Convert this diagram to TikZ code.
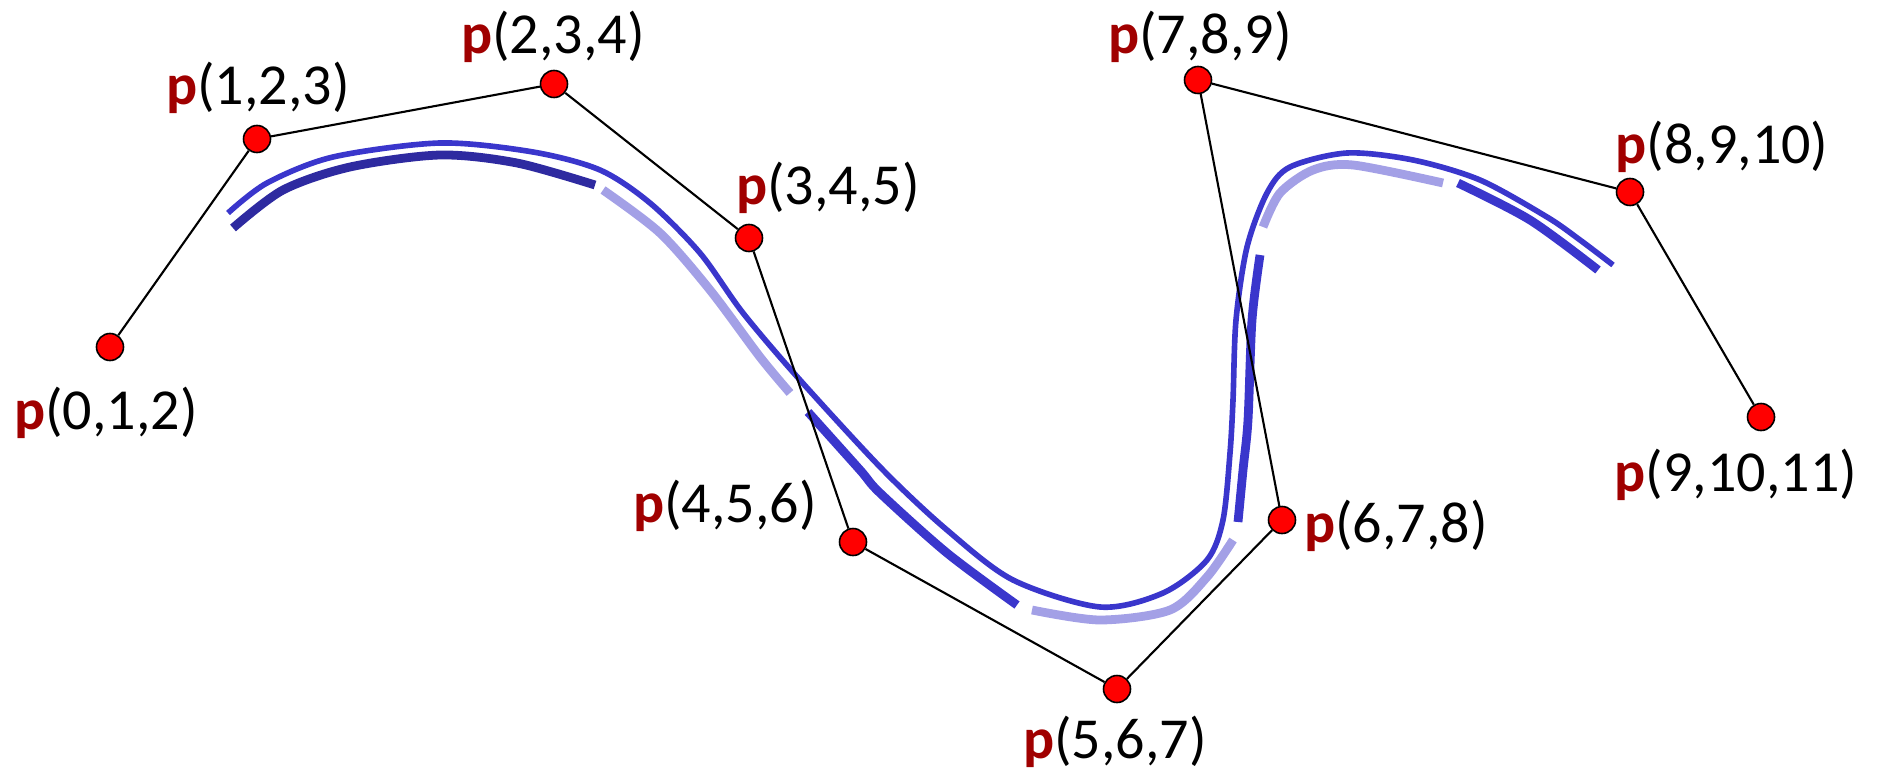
\documentclass[tikz,border=0pt]{standalone}
\usepackage{fontspec}
\setmainfont{Carlito}
\usetikzlibrary{positioning}
\definecolor{pred}{HTML}{A00000}
\definecolor{curveblue}{HTML}{3A36CC}
\definecolor{darkseg}{HTML}{2E2AA0}
\definecolor{lightseg}{HTML}{A3A0E6}
\newcommand{\plab}[1]{{\bfseries\color{pred}p}(#1)}

\begin{document}
\begin{tikzpicture}[x=0.01cm, y=-0.01cm,
    ctrl/.style={circle, draw, line width=0.45pt, fill=red, minimum size=0.27cm, inner sep=0pt},
    lbl/.style={anchor=base, inner sep=0pt, font=\fontsize{16.5}{20}\selectfont},
    thin/.style={curveblue, line width=1.6pt},
    seg/.style={line width=2.5pt}]
  \useasboundingbox (0,0) rectangle (1879,770);

  % the full curve
  \draw[thin] plot[smooth] coordinates {(228,213) (267,183) (333,157) (440,143) (533,152) (600,170) (650,203) (700,253) (743,313) (800,380) (883,470) (947,530) (1013,580) (1100,607) (1163,593) (1207,560) (1223,520) (1230,453) (1233,400) (1236,320) (1247,247) (1267,193) (1290,167) (1347,153) (1413,160) (1480,180) (1547,217) (1580,240) (1613,265)};

  % its pieces
  \draw[seg, darkseg] plot[smooth] coordinates {(233,228) (283,190) (350,167) (440,155) (517,163) (595,185)};
  \draw[seg, lightseg] plot[smooth] coordinates {(603,190) (660,233) (710,290) (760,357) (790,393)};
  \draw[seg, curveblue] plot[smooth] coordinates {(808,412) (860,470) (880,493) (947,553) (1017,605)};
  \draw[seg, lightseg] plot[smooth] coordinates {(1032,610) (1100,620) (1170,610) (1207,577) (1233,540)};
  \draw[seg, curveblue] plot[smooth] coordinates {(1238,522) (1243,470) (1248,420) (1252,320) (1260,255)};
  \draw[seg, lightseg] plot[smooth] coordinates {(1263,227) (1280,193) (1313,170) (1353,165) (1443,183)};
  \draw[seg, curveblue] plot[smooth] coordinates {(1458,183) (1530,220) (1598,270)};

  % control points
  \node[ctrl] (p0) at (110,347) {};
  \node[ctrl] (p1) at (257,139) {};
  \node[ctrl] (p2) at (554,84) {};
  \node[ctrl] (p3) at (749,238) {};
  \node[ctrl] (p4) at (853,542) {};
  \node[ctrl] (p5) at (1117,689) {};
  \node[ctrl] (p6) at (1282,520) {};
  \node[ctrl] (p7) at (1198,80) {};
  \node[ctrl] (p8) at (1630,192) {};
  \node[ctrl] (p9) at (1761,417) {};
  \draw[line width=0.6pt] (p0) -- (p1) -- (p2) -- (p3) -- (p4) -- (p5) -- (p6) -- (p7) -- (p8) -- (p9);

  % labels
  \node[lbl] (l0) at (106,429) {\plab{0,1,2}};
  \node[lbl] (l1) at (258,105) {\plab{1,2,3}};
  \node[lbl] (l2) at (553,54) {\plab{2,3,4}};
  \node[lbl] (l3) at (828,205) {\plab{3,4,5}};
  \node[lbl] (l4) at (725,522) {\plab{4,5,6}};
  \node[lbl] (l5) at (1115,758) {\plab{5,6,7}};
  \node[lbl] (l6) at (1396,542) {\plab{6,7,8}};
  \node[lbl] (l7) at (1200,54) {\plab{7,8,9}};
  \node[lbl] (l8) at (1722,164) {\plab{8,9,10}};
  \node[lbl] (l9) at (1736,491) {\plab{9,10,11}};
\end{tikzpicture}
\end{document}
